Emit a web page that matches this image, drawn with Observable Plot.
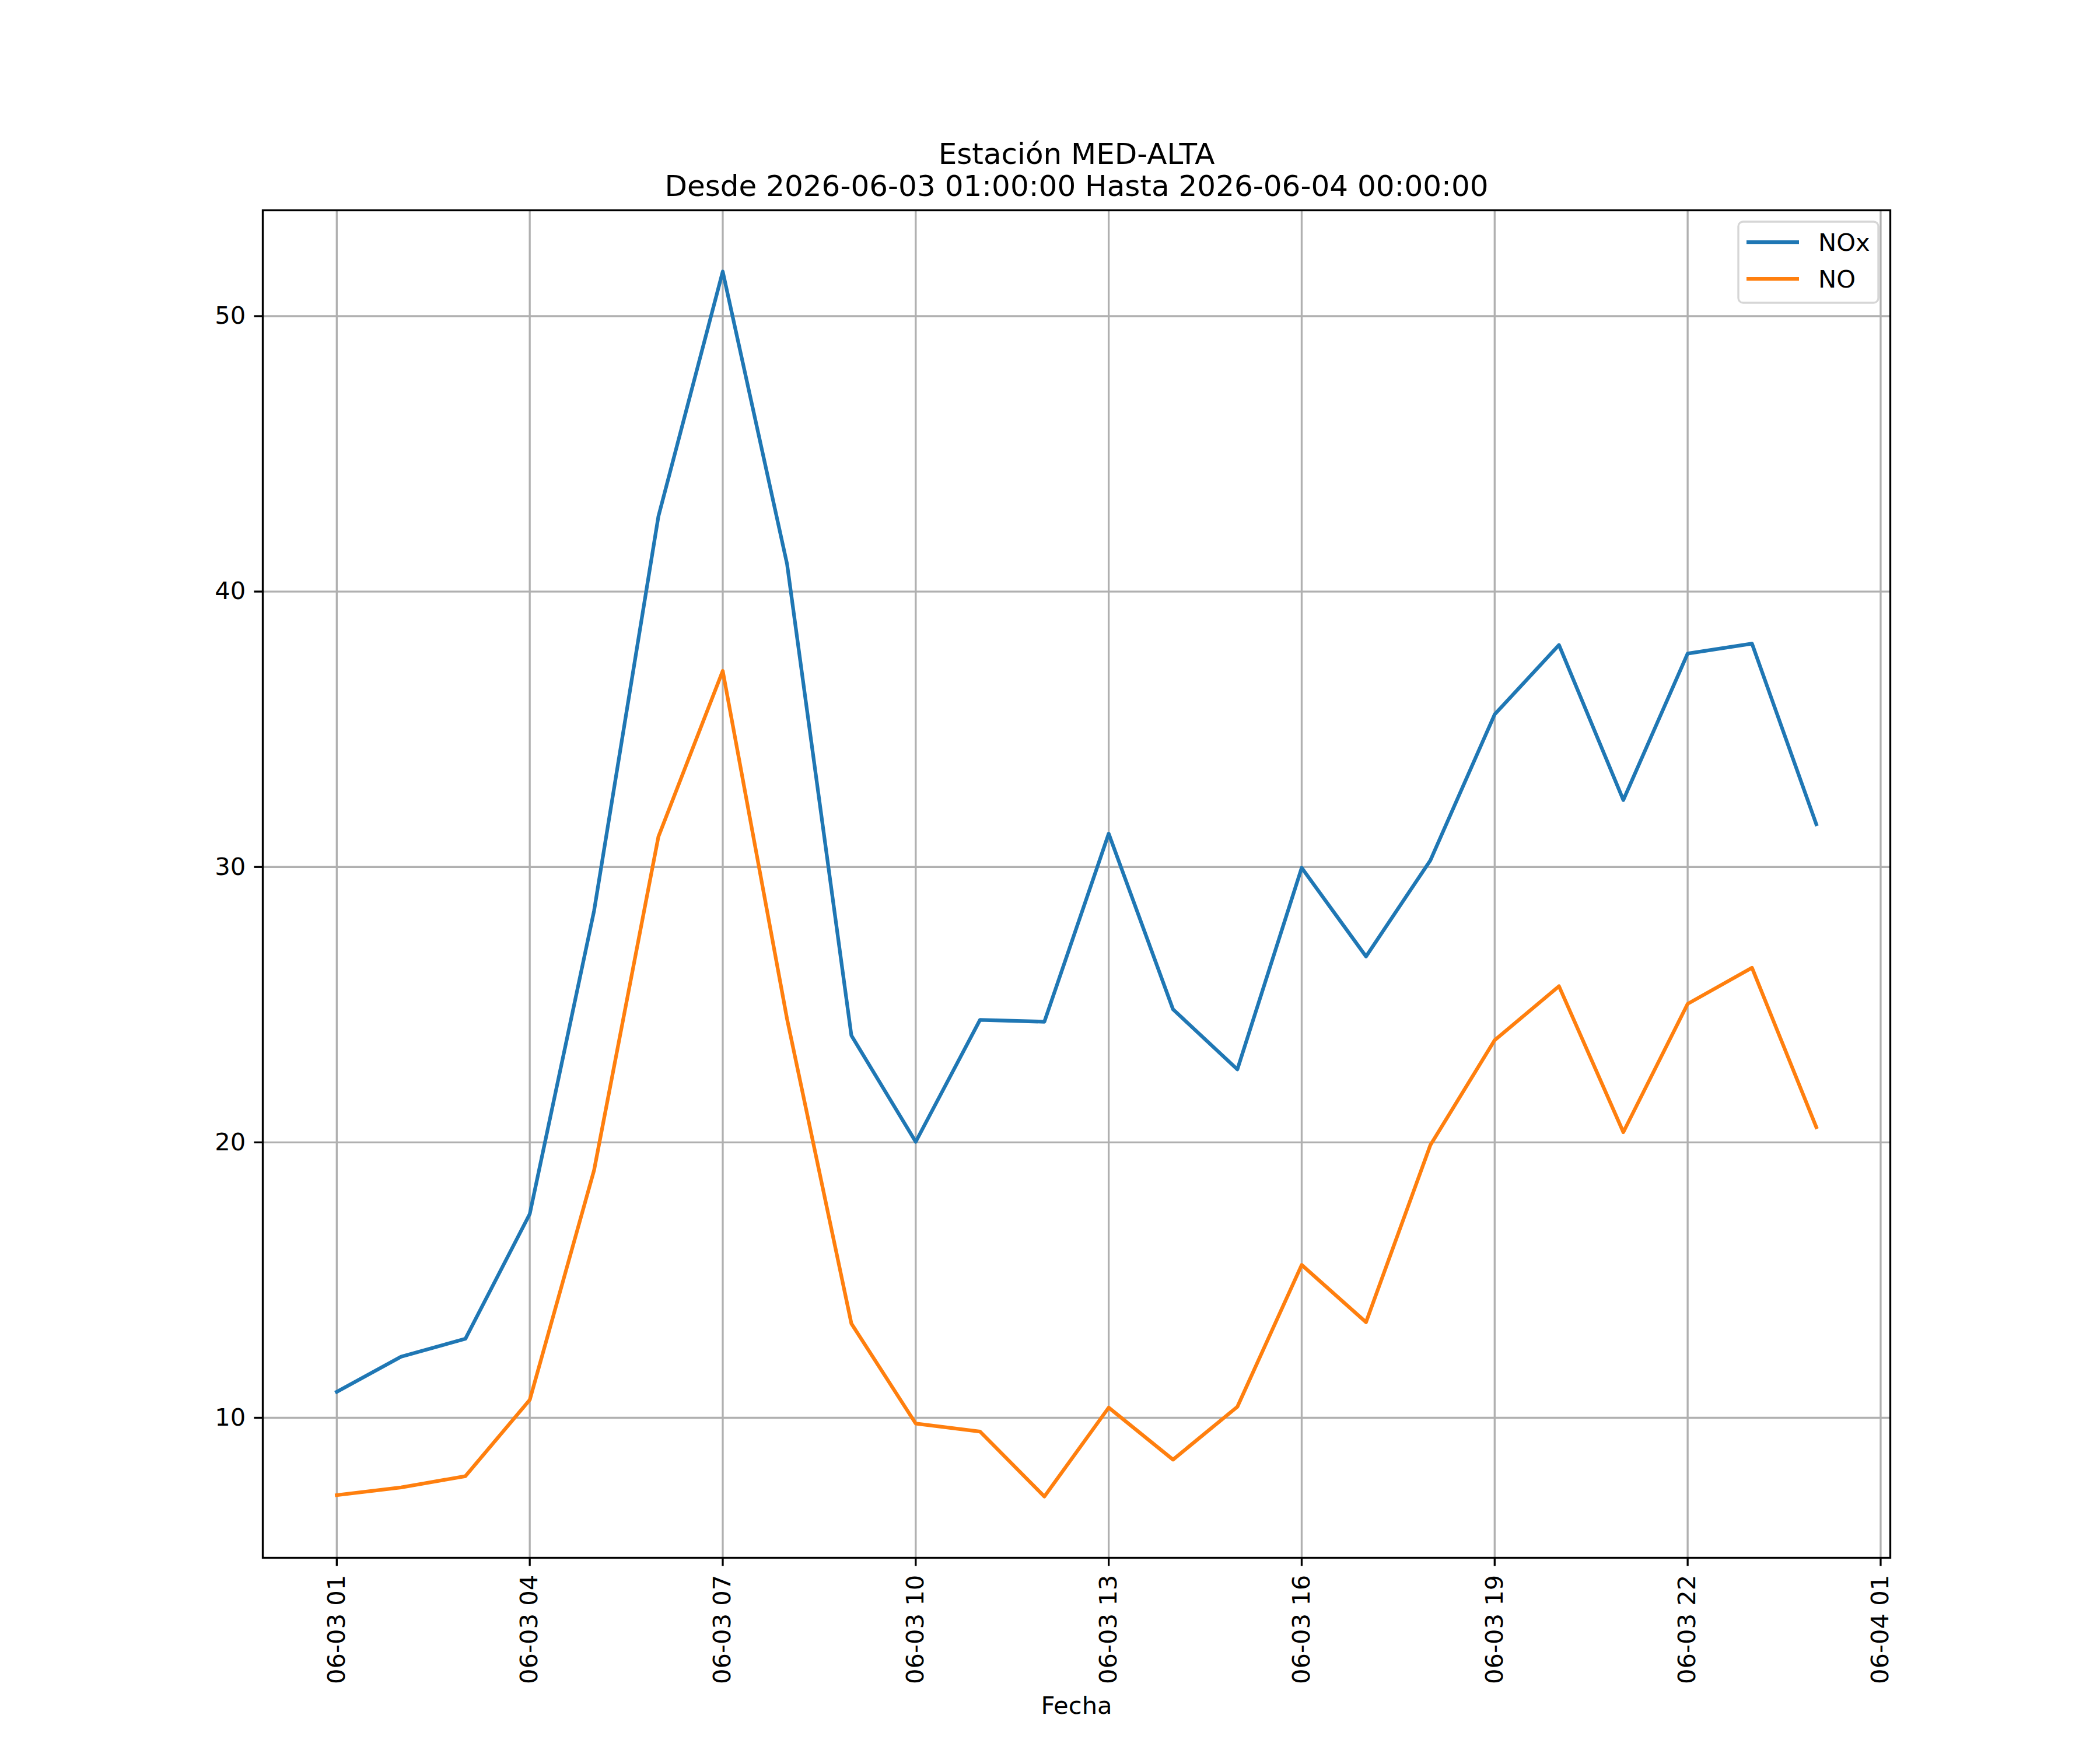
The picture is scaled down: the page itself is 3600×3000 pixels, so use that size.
<!DOCTYPE html>
<html>
<head>
<meta charset="utf-8">
<script src="https://cdn.jsdelivr.net/npm/d3@7"></script>
<script src="https://cdn.jsdelivr.net/npm/@observablehq/plot@0.6"></script>
<style>
  html, body { margin: 0; padding: 0; background: #fff; }
  svg { display: block; }
</style>
</head>
<body>
<div id="chart"></div>
<script>
// ---- data ----
const times = [
  "2026-06-03T01:00Z", "2026-06-03T02:00Z", "2026-06-03T03:00Z", "2026-06-03T04:00Z",
  "2026-06-03T05:00Z", "2026-06-03T06:00Z", "2026-06-03T07:00Z", "2026-06-03T08:00Z",
  "2026-06-03T09:00Z", "2026-06-03T10:00Z", "2026-06-03T11:00Z", "2026-06-03T12:00Z",
  "2026-06-03T13:00Z", "2026-06-03T14:00Z", "2026-06-03T15:00Z", "2026-06-03T16:00Z",
  "2026-06-03T17:00Z", "2026-06-03T18:00Z", "2026-06-03T19:00Z", "2026-06-03T20:00Z",
  "2026-06-03T21:00Z", "2026-06-03T22:00Z", "2026-06-03T23:00Z", "2026-06-04T00:00Z"
];
const noxValues = [
  10.94, 12.22, 12.87, 17.4, 28.41, 42.73, 51.62, 41.0,
  23.88, 20.02, 24.45, 24.38, 31.21, 24.83, 22.65, 29.97,
  26.75, 30.24, 35.54, 38.06, 32.43, 37.75, 38.11, 31.55
];
const noValues = [
  7.19, 7.47, 7.88, 10.65, 18.99, 31.1, 37.12, 24.48,
  13.42, 9.79, 9.5, 7.14, 10.37, 8.48, 10.4, 15.55,
  13.47, 19.9, 23.71, 25.67, 20.37, 25.03, 26.34, 20.55
];
const seriesNames = ["NOx", "NO"];
const seriesColors = ["#1f77b4", "#ff7f0e"];
const yTicks = [10, 20, 30, 40, 50];
const xTickTimes = [
  "2026-06-03T01:00Z", "2026-06-03T04:00Z", "2026-06-03T07:00Z", "2026-06-03T10:00Z",
  "2026-06-03T13:00Z", "2026-06-03T16:00Z", "2026-06-03T19:00Z", "2026-06-03T22:00Z",
  "2026-06-04T01:00Z"
];
const titleLines = ["Estación MED-ALTA", "Desde 2026-06-03 01:00:00 Hasta 2026-06-04 00:00:00"];
const xLabel = "Fecha";

// ---- build table ----
const seriesValues = [noxValues, noValues];
const rows = [];
seriesNames.forEach((name, si) => {
  times.forEach((t, i) => rows.push({ time: new Date(t), value: seriesValues[si][i], series: name }));
});
const xTicks = xTickTimes.map(t => new Date(t));

// matplotlib-like 5% auto margins
const tExt = d3.extent(rows, d => +d.time);
const tPad = (tExt[1] - tExt[0]) * 0.05;
const xDomain = [new Date(tExt[0] - tPad), new Date(tExt[1] + tPad)];
const vExt = d3.extent(rows, d => d.value);
const vPad = (vExt[1] - vExt[0]) * 0.05;
const yDomain = [vExt[0] - vPad, vExt[1] + vPad];

const FS = 41.67;   // 10pt @ 300dpi
const LW = 3.33;    // 0.8pt

const svgNode = Plot.plot({
  width: 3600,
  height: 3000,
  marginLeft: 450,
  marginRight: 360,
  marginTop: 360,
  marginBottom: 330,
  style: { fontFamily: "'DejaVu Sans', sans-serif", fontSize: FS + "px", background: "white", color: "black" },
  x: { type: "utc", domain: xDomain },
  y: { domain: yDomain },
  color: { domain: seriesNames, range: seriesColors },
  marks: [
    Plot.gridX(xTicks, { stroke: "#b0b0b0", strokeOpacity: 1, strokeWidth: LW }),
    Plot.gridY(yTicks, { stroke: "#b0b0b0", strokeOpacity: 1, strokeWidth: LW }),
    Plot.line(rows, {
      x: "time", y: "value", z: "series", stroke: "series",
      strokeWidth: 6.25, strokeLinejoin: "round", strokeLinecap: "square"
    }),
    Plot.frame({ stroke: "black", strokeWidth: LW }),
    Plot.axisX(xTicks, {
      tickFormat: d3.utcFormat("%m-%d %H"), tickRotate: -90,
      tickSize: 14.58, tickPadding: 14.58, strokeWidth: LW, label: null, fontSize: FS
    }),
    Plot.axisY(yTicks, {
      tickSize: 14.58, tickPadding: 14.58, strokeWidth: LW, label: null, fontSize: FS
    }),
    Plot.text([xLabel], { text: d => d, frameAnchor: "bottom", dy: 267, lineAnchor: "bottom", fontSize: FS }),
    Plot.text([titleLines.join("\n")], {
      text: d => d, frameAnchor: "top", dy: -25, lineAnchor: "bottom", fontSize: 50, lineHeight: 1.1
    })
  ]
});

// ---- legend (upper right, matplotlib style) ----
const svg = d3.select(svgNode);
const lg = svg.append("g")
  .attr("font-family", "'DejaVu Sans', sans-serif")
  .attr("font-size", FS)
  .attr("text-anchor", "start");
lg.append("rect")
  .attr("x", 2980).attr("y", 380).attr("width", 240).attr("height", 139)
  .attr("rx", 8).attr("ry", 8)
  .attr("fill", "white").attr("fill-opacity", 0.8)
  .attr("stroke", "#d6d6d6").attr("stroke-width", LW);
seriesNames.forEach((name, i) => {
  const cy = 415 + i * 63;
  lg.append("line")
    .attr("x1", 2994).attr("x2", 3084).attr("y1", cy).attr("y2", cy)
    .attr("stroke", seriesColors[i]).attr("stroke-width", 6.25);
  lg.append("text")
    .attr("x", 3117).attr("y", cy).attr("dy", "0.36em")
    .attr("text-anchor", "start")
    .attr("fill", "black").text(name);
});

document.getElementById("chart").appendChild(svgNode);
</script>
</body>
</html>
